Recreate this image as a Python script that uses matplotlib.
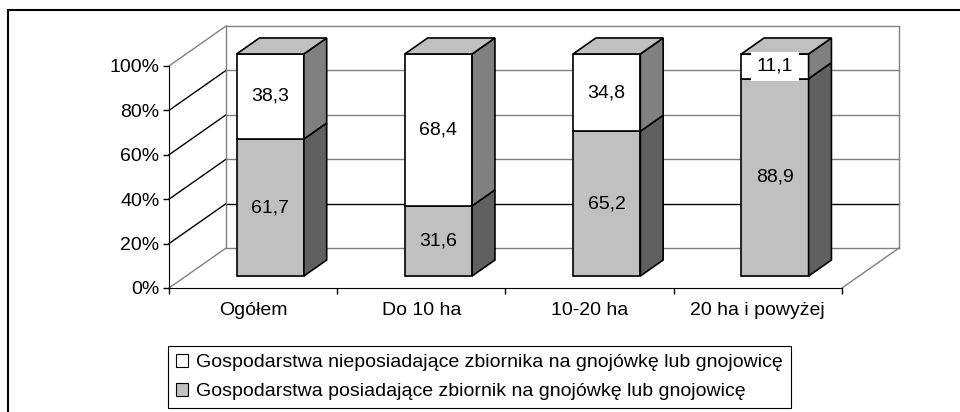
import numpy as np
import matplotlib.pyplot as plt
from matplotlib.patches import Polygon, Rectangle, Patch

plt.rcParams['font.family'] = ['Liberation Sans', 'DejaVu Sans']

categories = ["Ogółem", "Do 10 ha", "10-20 ha", "20 ha i powyżej"]
with_tank = [61.7, 31.6, 65.2, 88.9]
without_tank = [38.3, 68.4, 34.8, 11.1]
series_names = ["Gospodarstwa nieposiadające zbiornika na gnojówkę lub gnojowicę",
                "Gospodarstwa posiadające zbiornik na gnojówkę lub gnojowicę"]
yticks = [0, 20, 40, 60, 80, 100]

# fake 3d: depth of the floor in data units, bars sit between 30% and 70% of it
DX, DY = 0.339, 18.0
BAR_W = 0.4
Z0, Z1 = 0.3, 0.7
GRID = '#808080'
FS = 14

fig = plt.figure(figsize=(9.6, 4.12), dpi=100)
ax = fig.add_axes([169 / 960, 1 - 288 / 412, (899 - 169) / 960, (288 - 26) / 412])
n = len(categories)
ax.set_xlim(-0.5, n - 0.5 + DX)
ax.set_ylim(0, 100 + DY)

for s in ['top', 'right']:
    ax.spines[s].set_visible(False)
ax.spines['left'].set_bounds(0, 100)
ax.spines['bottom'].set_bounds(-0.5, n - 0.5)
ax.spines['left'].set_zorder(2)
ax.spines['bottom'].set_zorder(2)

# side wall, back wall and floor
x0, x1 = -0.5, n - 0.5
for v in yticks:
    c = 'black' if v in (20, 40, 60, 80) else GRID
    ax.plot([x0, x0 + DX], [v, v + DY], color=c, lw=1, zorder=1, clip_on=False)
    ax.plot([x0 + DX, x1 + DX], [v + DY, v + DY], color='black' if v == 20 else GRID,
            lw=1, zorder=1, clip_on=False)
ax.plot([x0 + DX] * 2, [DY, 100 + DY], color=GRID, lw=1, zorder=1, clip_on=False)
ax.plot([x1 + DX] * 2, [DY, 100 + DY], color=GRID, lw=1, zorder=1, clip_on=False)
ax.plot([x1, x1 + DX], [0, DY], color=GRID, lw=1, zorder=1, clip_on=False)

# bars
x = np.arange(n)
fx = x + Z0 * DX
fy = Z0 * DY
bdx, bdy = (Z1 - Z0) * DX, (Z1 - Z0) * DY
with_tank = np.array(with_tank)
without_tank = np.array(without_tank)
segs = [(with_tank, np.zeros(n), '#C0C0C0', '#606060', False),
        (without_tank, with_tank, 'white', '#808080', True)]
for vals, bottoms, front, side, boxed in segs:
    ax.bar(fx, vals, width=BAR_W, bottom=fy + bottoms, color=front,
           edgecolor='black', lw=1.2, zorder=3, clip_on=False)
    for i in range(n):
        r = fx[i] + BAR_W / 2
        b = fy + bottoms[i]
        t = b + vals[i]
        ax.add_patch(Polygon([(r, b), (r + bdx, b + bdy), (r + bdx, t + bdy), (r, t)],
                             closed=True, fc=side, ec='black', lw=1.2, zorder=3,
                             clip_on=False))
        lab = f"{vals[i]:.1f}".replace('.', ',')
        kw = {}
        if boxed:
            kw['bbox'] = dict(boxstyle='square,pad=0.3', fc='white', ec='none')
        ax.text(fx[i], b + vals[i] / 2, lab, ha='center', va='center',
                fontsize=FS, zorder=5, **kw)
# top faces
tot = with_tank + without_tank
for i in range(n):
    l = fx[i] - BAR_W / 2
    r = fx[i] + BAR_W / 2
    T = fy + tot[i]
    ax.add_patch(Polygon([(l, T), (r, T), (r + bdx, T + bdy), (l + bdx, T + bdy)],
                         closed=True, fc='#C0C0C0', ec='black', lw=1.2, zorder=3,
                         clip_on=False))

ax.set_yticks(yticks, [f"{v}%" for v in yticks])
ax.tick_params(axis='y', length=4, width=1, pad=3, labelsize=FS)
ax.set_xticks(np.arange(-0.5, n, 1), [''] * (n + 1))
ax.set_xticks(x, categories, minor=True)
ax.tick_params(axis='x', which='major', length=4, width=1)
ax.tick_params(axis='x', which='minor', length=0, pad=10, labelsize=FS)
ax.patch.set_visible(False)

# outer chart frame, only left and top edges fall inside the image
fig.patches.append(Rectangle((8 / 960, -0.1), 1.2, 1.1 - 10 / 412, transform=fig.transFigure,
                             fill=False, ec='black', lw=1.5))

handles = [Patch(fc='white', ec='black', lw=0.8), Patch(fc='#C0C0C0', ec='black', lw=0.8)]
leg = fig.legend(handles, series_names, loc='upper left',
                 bbox_to_anchor=(168 / 960, 1 - 346 / 412), frameon=True, fancybox=False,
                 edgecolor='black', framealpha=1, fontsize=FS, handlelength=0.65,
                 handleheight=0.65, handletextpad=0.4, borderpad=0.4, labelspacing=0.6,
                 borderaxespad=0)
leg.get_frame().set_linewidth(0.8)

fig.savefig('out.png', dpi=100)
